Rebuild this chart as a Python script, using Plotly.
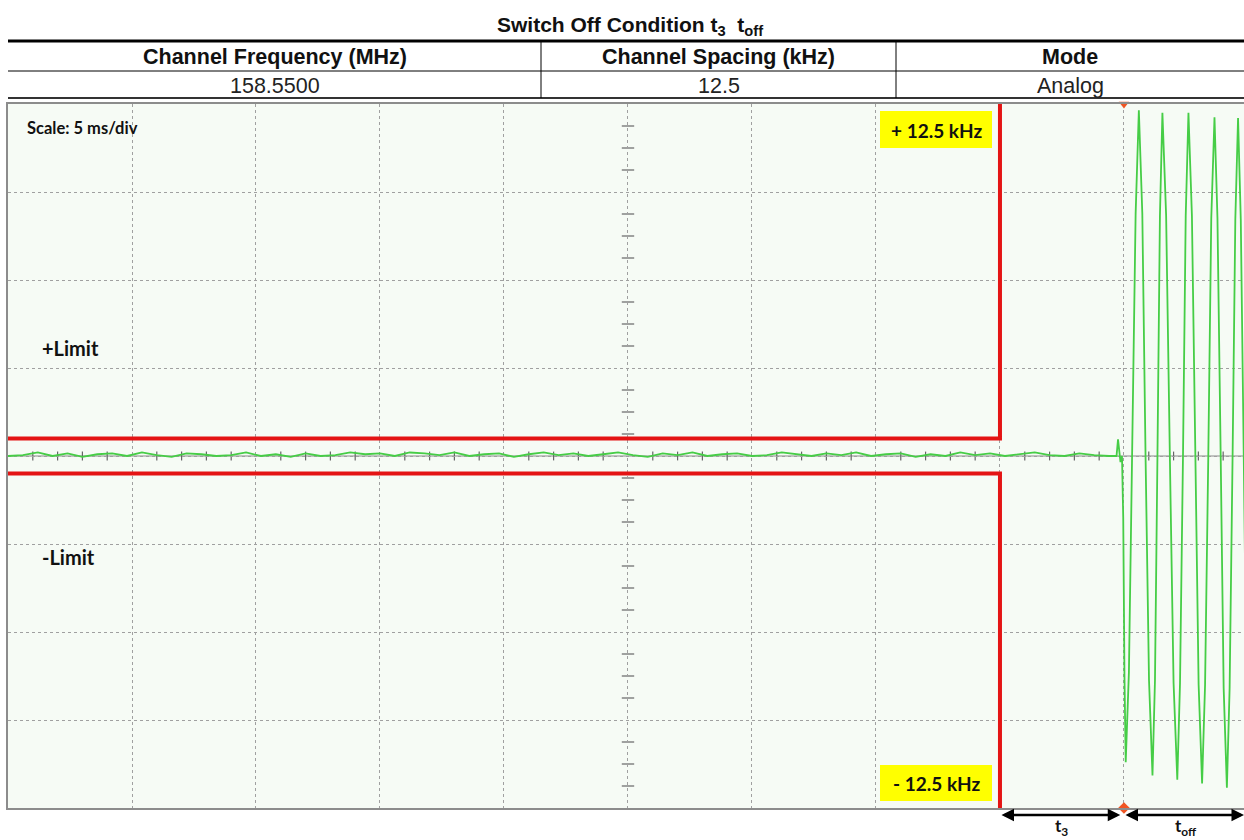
import plotly.graph_objects as go

# ---------------- data (x in ms, y in vertical divisions) ----------------
title_text = "Switch Off Condition t<sub>3</sub>  t<sub>off</sub>"
table_headers = ["Channel Frequency (MHz)", "Channel Spacing (kHz)", "Mode"]
table_values = ["158.5500", "12.5", "Analog"]

x_range_ms = [0, 49.84]
y_range_div = [-4, 4]

# limit mask (upper / lower)
upper_limit_t = [0, 40, 40]
upper_limit_v = [0.2, 0.2, 4.0]
lower_limit_t = [0, 40, 40]
lower_limit_v = [-0.2, -0.2, -4.0]

# residual noise before switch-off
noise_t = [0.0, 0.6, 1.2, 1.8, 2.4, 3.0, 3.6, 4.2, 4.8, 5.4, 6.0, 6.6, 7.2, 7.8,
           8.4, 9.0, 9.6, 10.2, 10.8, 11.4, 12.0, 12.6, 13.2, 13.8, 14.4, 15.0,
           15.6, 16.2, 16.8, 17.4, 18.0, 18.6, 19.2, 19.8, 20.4, 21.0, 21.6, 22.2,
           22.8, 23.4, 24.0, 24.6, 25.2, 25.8, 26.4, 27.0, 27.6, 28.2, 28.8, 29.4,
           30.0, 30.6, 31.2, 31.8, 32.4, 33.0, 33.6, 34.2, 34.8, 35.4, 36.0, 36.6,
           37.2, 37.8, 38.4, 39.0, 39.6, 40.2, 40.8, 41.4, 42.0, 42.6, 43.2, 43.8,
           44.4]
noise_v = [0.00, 0.01, 0.04, 0.00, 0.03, -0.01, 0.02, 0.03, 0.00, 0.04, 0.01, -0.01,
           0.03, 0.02, 0.00, 0.01, 0.04, 0.00, 0.02, -0.01, 0.03, 0.00, 0.01, 0.04,
           0.02, 0.03, 0.00, 0.04, 0.03, 0.01, 0.04, 0.00, 0.02, 0.03, -0.01, 0.02,
           0.04, 0.01, 0.03, 0.00, 0.02, 0.04, 0.01, -0.01, 0.03, 0.01, 0.04, 0.00,
           0.02, 0.03, 0.00, 0.01, 0.04, 0.02, 0.00, 0.03, 0.01, 0.04, 0.00, 0.02,
           0.03, -0.01, 0.02, 0.00, 0.04, 0.01, 0.03, 0.00, 0.02, 0.04, 0.01, 0.00,
           0.03, 0.01, 0.00]

# transient and modulated tone after the trigger
wave_t = [44.70, 44.76, 44.80, 44.86, 44.92, 44.97, 45.02, 45.07,
          45.20, 45.33, 45.47, 45.60, 45.74, 45.87, 46.01, 46.15,
          46.25, 46.35, 46.45, 46.55, 46.70, 46.85, 47.00, 47.15,
          47.26, 47.38, 47.49, 47.60, 47.74, 47.88, 48.01, 48.15,
          48.27, 48.40, 48.52, 48.65, 48.77, 48.90, 49.02, 49.15,
          49.26, 49.38, 49.49, 49.60, 49.71, 49.83, 49.94]
wave_v = [0.00, 0.19, 0.06, -0.07, 0.00, -0.70, -2.50, -3.48,
          -2.45, 0.00, 2.75, 3.93, 2.75, 0.00, -2.55, -3.63,
          -2.55, 0.00, 2.73, 3.90, 2.73, 0.00, -2.58, -3.68,
          -2.58, 0.00, 2.73, 3.90, 2.73, 0.00, -2.60, -3.72,
          -2.60, 0.00, 2.70, 3.85, 2.70, 0.00, -2.64, -3.77,
          -2.64, 0.00, 2.69, 3.84, 2.69, 0.00, -2.64]

trigger_t = [45.0, 45.0]
trigger_v = [4.0, -4.0]

label_scale = "Scale: 5 ms/div"
label_plus_limit = "+Limit"
label_minus_limit = "-Limit"
label_plus_dev = "+ 12.5 kHz"
label_minus_dev = "- 12.5 kHz"
span_t3 = [40.0, 44.85]
span_toff = [45.0, 49.84]

# ---------------- layout helpers ----------------
W, H = 1244, 840
PL, PR, PT, PB = 8, 1244, 104, 808   # plot box in page pixels


def px(x):
    return (x - PL) / (PR - PL)


def py(y):
    return (PB - y) / (PB - PT)


fig = go.Figure()

fig.add_trace(go.Scatter(x=noise_t + wave_t, y=noise_v + wave_v, mode="lines",
                         line=dict(color="rgb(70,205,70)", width=1.8),
                         hoverinfo="skip", showlegend=False))
fig.add_trace(go.Scatter(x=upper_limit_t, y=upper_limit_v, mode="lines",
                         line=dict(color="rgb(228,20,20)", width=4),
                         hoverinfo="skip", showlegend=False))
fig.add_trace(go.Scatter(x=lower_limit_t, y=lower_limit_v, mode="lines",
                         line=dict(color="rgb(228,20,20)", width=4),
                         hoverinfo="skip", showlegend=False))
fig.add_trace(go.Scatter(x=trigger_t, y=trigger_v, mode="markers",
                         marker=dict(symbol=["triangle-down", "diamond"], size=9,
                                     color="rgb(240,85,35)"),
                         cliponaxis=False, hoverinfo="skip", showlegend=False))

shapes = []
# center axes with small ticks
shapes.append(dict(type="line", xref="x", yref="y", x0=x_range_ms[0], x1=x_range_ms[1],
                   y0=0, y1=0, line=dict(color="#8a8a8a", width=1), layer="below"))
for i in range(1, 50):
    if i % 5 == 0:
        continue
    shapes.append(dict(type="line", xref="x", yref="y", x0=i, x1=i, y0=-0.05, y1=0.05,
                       line=dict(color="#666", width=1.2), layer="below"))
for k in range(-16, 17):
    if k % 4 == 0:
        continue
    shapes.append(dict(type="line", xref="x", yref="y", x0=24.75, x1=25.25,
                       y0=k / 4, y1=k / 4, line=dict(color="#666", width=1.2), layer="below"))

# table lines
shapes.append(dict(type="line", xref="paper", yref="paper", x0=0, x1=1,
                   y0=py(41), y1=py(41), line=dict(color="black", width=3)))
shapes.append(dict(type="line", xref="paper", yref="paper", x0=0, x1=1,
                   y0=py(71), y1=py(71), line=dict(color="black", width=1)))
shapes.append(dict(type="line", xref="paper", yref="paper", x0=0, x1=1,
                   y0=py(98), y1=py(98), line=dict(color="#333", width=2)))
for sx in (541, 896):
    shapes.append(dict(type="line", xref="paper", yref="paper", x0=px(sx), x1=px(sx),
                       y0=py(41), y1=py(98), line=dict(color="black", width=1)))
# yellow label boxes
shapes.append(dict(type="rect", xref="paper", yref="paper", x0=px(880), x1=px(992),
                   y0=py(111), y1=py(148), fillcolor="#ffff00", line=dict(width=0)))
shapes.append(dict(type="rect", xref="paper", yref="paper", x0=px(880), x1=px(992),
                   y0=py(765), y1=py(801), fillcolor="#ffff00", line=dict(width=0)))

ann = []
ann.append(dict(text="<b>" + title_text + "</b>", x=px(630), y=py(26), xref="paper", yref="paper",
                showarrow=False, font=dict(family="Liberation Sans", size=21, color="#111"),
                xanchor="center", yanchor="middle"))
col_centers = [274.5, 718.5, 1070]
for c, h, v in zip(col_centers, table_headers, table_values):
    ann.append(dict(text="<b>" + h + "</b>", x=px(c), y=py(57), xref="paper", yref="paper",
                    showarrow=False, font=dict(family="Liberation Sans", size=21.5, color="#111"),
                    xanchor="center", yanchor="middle"))
    ann.append(dict(text=v, x=px(c), y=py(86), xref="paper", yref="paper",
                    showarrow=False, font=dict(family="Liberation Sans", size=21.5, color="#222"),
                    xanchor="center", yanchor="middle"))

ann.append(dict(text="<b>" + label_scale + "</b>", x=px(25), y=py(128), xref="paper", yref="paper",
                showarrow=False, font=dict(family="Lato", size=16.5, color="#111"),
                xanchor="left", yanchor="middle"))
ann.append(dict(text="<b>" + label_plus_limit + "</b>", x=px(40), y=py(348), xref="paper", yref="paper",
                showarrow=False, font=dict(family="Lato", size=20, color="#111"),
                xanchor="left", yanchor="middle"))
ann.append(dict(text="<b>" + label_minus_limit + "</b>", x=px(40), y=py(557), xref="paper", yref="paper",
                showarrow=False, font=dict(family="Lato", size=20, color="#111"),
                xanchor="left", yanchor="middle"))
ann.append(dict(text="<b>" + label_plus_dev + "</b>", x=px(936), y=py(130), xref="paper", yref="paper",
                showarrow=False, font=dict(family="Lato", size=19, color="#111"),
                xanchor="center", yanchor="middle"))
ann.append(dict(text="<b>" + label_minus_dev + "</b>", x=px(936), y=py(783), xref="paper", yref="paper",
                showarrow=False, font=dict(family="Lato", size=19, color="#111"),
                xanchor="center", yanchor="middle"))

# double-headed arrows for t3 / toff
for (a, b) in (span_t3, span_toff):
    ann.append(dict(x=b, y=py(815), xref="x", yref="paper", ax=a, ay=0, axref="x",
                    ayref="pixel", showarrow=True, arrowhead=2, startarrowhead=2,
                    arrowside="end+start", arrowsize=1, arrowwidth=2.5, arrowcolor="black",
                    text=""))
ann.append(dict(text="<b>t<sub>3</sub></b>", x=42.5, y=py(827), xref="x", yref="paper",
                showarrow=False, font=dict(family="Lato", size=17, color="#111"),
                xanchor="center", yanchor="middle"))
ann.append(dict(text="<b>t<sub>off</sub></b>", x=47.5, y=py(827), xref="x", yref="paper",
                showarrow=False, font=dict(family="Lato", size=17, color="#111"),
                xanchor="center", yanchor="middle"))

fig.update_layout(
    width=W, height=H,
    margin=dict(l=PL, r=W - PR, t=PT, b=H - PB, pad=0),
    paper_bgcolor="white", plot_bgcolor="#f6fbf5",
    shapes=shapes, annotations=ann, showlegend=False,
    xaxis=dict(range=x_range_ms, dtick=5, tick0=0, showticklabels=False, ticks="",
               showgrid=True, gridcolor="#a0a0a0", griddash="dot", gridwidth=1,
               zeroline=False, showline=True, mirror=True, linecolor="#8c8c8c", linewidth=1.5,
               fixedrange=True),
    yaxis=dict(range=y_range_div, dtick=1, tick0=0, showticklabels=False, ticks="",
               showgrid=True, gridcolor="#a0a0a0", griddash="dot", gridwidth=1,
               zeroline=False, showline=True, mirror=False, linecolor="#8c8c8c", linewidth=1.5,
               fixedrange=True),
)

# remove the default 8 px page margin so the 1244x840 figure fills the window exactly
fig.write_html("out.html", config={"displayModeBar": False},
               post_script="document.body.style.margin='0';document.body.style.overflow='hidden';")
